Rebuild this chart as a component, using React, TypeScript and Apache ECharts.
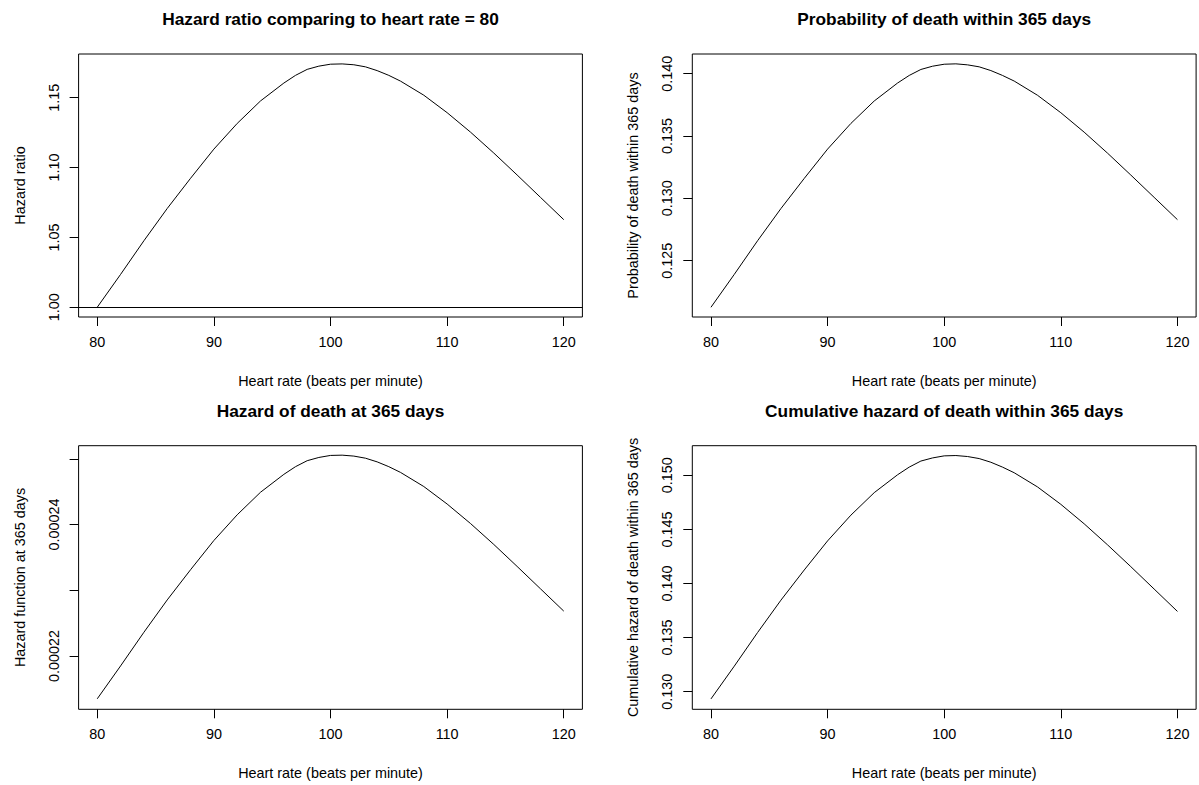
import React, { useEffect, useRef } from "react";
import * as echarts from "echarts";

// ---- data ----
const heartRate = [80, 82, 84, 86, 88, 90, 92, 94, 96, 97, 98, 99, 100, 101, 102, 103, 104, 105, 106, 108, 110, 112, 114, 116, 118, 120];

const hazardRatio = [1.0, 1.0235, 1.0476, 1.0707, 1.0923, 1.1132, 1.1316, 1.1477, 1.1605, 1.166, 1.1703, 1.1726, 1.174, 1.1742, 1.1736, 1.1721, 1.1694, 1.166, 1.1619, 1.1518, 1.1393, 1.1254, 1.1104, 1.0947, 1.0787, 1.0627];

const probDeath = [0.12126, 0.1239, 0.1266, 0.12918, 0.1316, 0.13395, 0.13601, 0.13781, 0.13925, 0.13986, 0.14034, 0.1406, 0.14076, 0.14079, 0.14071, 0.14055, 0.14025, 0.13986, 0.13941, 0.13827, 0.13687, 0.13531, 0.13363, 0.13187, 0.13008, 0.12829];

const hazardFn = [0.0002135, 0.0002185, 0.00022362, 0.00022854, 0.00023313, 0.00023758, 0.00024149, 0.00024492, 0.00024764, 0.00024881, 0.00024972, 0.00025021, 0.00025052, 0.00025056, 0.00025042, 0.0002501, 0.00024954, 0.00024881, 0.00024794, 0.00024579, 0.00024313, 0.00024017, 0.00023698, 0.00023364, 0.00023024, 0.00022684];

const cumHazard = [0.12933, 0.13236, 0.13547, 0.13846, 0.14125, 0.14394, 0.14632, 0.1484, 0.15005, 0.15076, 0.15132, 0.15161, 0.1518, 0.15183, 0.15174, 0.15155, 0.15121, 0.15076, 0.15024, 0.14893, 0.14732, 0.14552, 0.14358, 0.14156, 0.13949, 0.13742];

const xTicks = [80, 90, 100, 110, 120];
const hrTicks = [1.0, 1.05, 1.1, 1.15];
const probTicks = [0.125, 0.13, 0.135, 0.14];
const hazTicks = [0.00022, 0.00023, 0.00024, 0.00025];
const hazLabels = [0.00022, 0.00024];
const cumTicks = [0.13, 0.135, 0.14, 0.145, 0.15];

const titles = [
  "Hazard ratio comparing to heart rate = 80",
  "Probability of death within 365 days",
  "Hazard of death at 365 days",
  "Cumulative hazard of death within 365 days",
];
const yNames = [
  "Hazard ratio",
  "Probability of death within 365 days",
  "Hazard function at 365 days",
  "Cumulative hazard of death within 365 days",
];
const xName = "Heart rate (beats per minute)";

const FONT = "'Liberation Sans', Arial, Helvetica, sans-serif";

export default function App() {
  const ref = useRef<HTMLDivElement>(null);

  useEffect(() => {
    if (!ref.current) return;
    const chart = echarts.init(ref.current, null, { renderer: "svg" });

    const W = 503.8;
    const panels = [
      { left: 78.6, top: 54, height: 263, vals: hazardRatio, ticks: hrTicks, labels: hrTicks, dec: 2, min: 0.993, max: 1.1813 },
      { left: 692.3, top: 54, height: 263, vals: probDeath, ticks: probTicks, labels: probTicks, dec: 3, min: 0.12048, max: 0.14158 },
      { left: 78.6, top: 445.7, height: 263.6, vals: hazardFn, ticks: hazTicks, labels: hazLabels, dec: 5, min: 0.0002119, max: 0.000252 },
      { left: 692.3, top: 445.7, height: 263.6, vals: cumHazard, ticks: cumTicks, labels: cumTicks, dec: 3, min: 0.12837, max: 0.15274 },
    ];

    const axisText = { color: "#000", fontFamily: FONT, fontSize: 14.4 };

    const option: any = {
      animation: false,
      backgroundColor: "#fff",
      grid: panels.map((p) => ({
        left: p.left,
        top: p.top,
        width: W,
        height: p.height,
        show: true,
        borderColor: "#000",
        borderWidth: 1,
        backgroundColor: "transparent",
        containLabel: false,
      })),
      xAxis: panels.map((p, i) => ({
        type: "value",
        gridIndex: i,
        min: 78.4,
        max: 121.6,
        name: xName,
        nameLocation: "middle",
        nameGap: 57,
        nameTextStyle: { ...axisText },
        axisLine: { show: false },
        splitLine: { show: false },
        axisTick: { show: true, inside: false, length: 9, customValues: xTicks, lineStyle: { color: "#000", width: 1 } },
        axisLabel: { customValues: xTicks, margin: 18, ...axisText, formatter: (v: number) => String(v) },
      })),
      yAxis: panels.map((p, i) => ({
        type: "value",
        gridIndex: i,
        min: p.min,
        max: p.max,
        scale: true,
        name: yNames[i],
        nameLocation: "middle",
        nameGap: 52,
        nameRotate: 90,
        nameTextStyle: { ...axisText },
        axisLine: { show: false },
        splitLine: { show: false },
        axisTick: { show: true, inside: false, length: 9, customValues: p.ticks, lineStyle: { color: "#000", width: 1 } },
        axisLabel: {
          customValues: p.labels,
          rotate: 90,
          margin: 18,
          ...axisText,
          formatter: (v: number) => v.toFixed(p.dec),
        },
      })),
      series: panels.map((p, i) => ({
        type: "line",
        xAxisIndex: i,
        yAxisIndex: i,
        data: heartRate.map((x, j) => [x, p.vals[j]]),
        symbol: "none",
        showSymbol: false,
        smooth: false,
        lineStyle: { color: "#000", width: 1 },
        silent: true,
        ...(i === 0
          ? {
              markLine: {
                silent: true,
                symbol: ["none", "none"],
                label: { show: false },
                lineStyle: { color: "#000", width: 1, type: "solid" },
                data: [{ yAxis: 1 }],
              },
            }
          : {}),
      })),
      graphic: panels.map((p, i) => ({
        type: "text",
        x: p.left + W / 2,
        y: p.top - 35,
        style: {
          text: titles[i],
          align: "center",
          verticalAlign: "middle",
          fill: "#000",
          font: `bold 17.3px ${FONT}`,
        },
      })),
    };

    chart.setOption(option);
    return () => chart.dispose();
  }, []);

  return (
    <div
      ref={ref}
      style={{ position: "absolute", left: 0, top: 0, width: 1199, height: 785, background: "#fff" }}
    />
  );
}
